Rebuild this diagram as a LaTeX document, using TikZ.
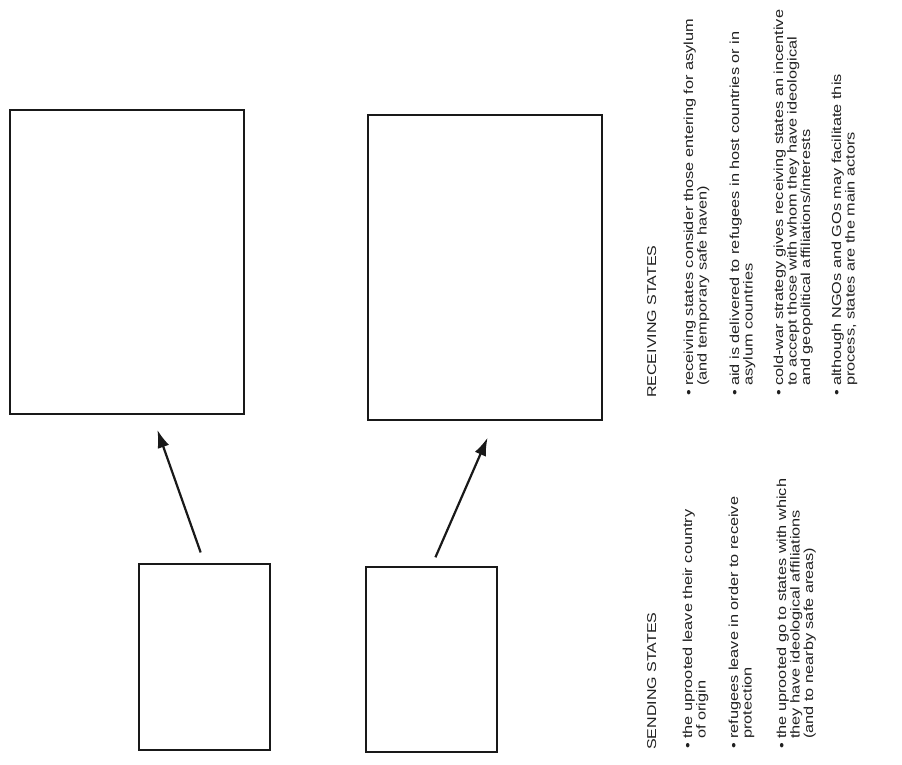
\documentclass[tikz,border=0pt]{standalone}
\usepackage{fontspec}
\setmainfont{Liberation Sans}
\usetikzlibrary{arrows.meta}
\begin{document}
\begin{tikzpicture}[x=1pt,y=-1pt,
  box/.style={draw=black!90, line width=1.4pt, inner sep=0pt},
  vt/.style={font=\fontsize{16.3}{18}\selectfont, xscale=0.8, rotate=90, anchor=base west, inner sep=0pt, text=black!88},
  vh/.style={vt, font=\fontsize{16}{18}\selectfont},
  arr/.style={line width=2.2pt, draw=black!90, -{Latex[length=18pt,width=12pt]}}]
\useasboundingbox (0,0) rectangle (902,765);
% boxes
\node[box, minimum width=234pt, minimum height=304pt] (b1) at (127,262) {};
\node[box, minimum width=234pt, minimum height=305pt] (b2) at (485,267.5) {};
\node[box, minimum width=131pt, minimum height=186pt] (s1) at (204.5,657) {};
\node[box, minimum width=131pt, minimum height=185pt] (s2) at (431.5,659.5) {};
% arrows
\draw[arr, shorten <=11.5pt, shorten >=16pt] (s1.north) -- ([xshift=25pt]b1.south);
\draw[arr, shorten <=9.8pt, shorten >=18.5pt] (s2.north) -- ([xshift=10pt]b2.south);
% receiving states
\node[vh] (rh) at (656,398) {RECEIVING STATES};
\node[vt] (rd1) at (693,396) {\textbullet};
\node[vt] (r1a) at (693,386) {receiving states consider those entering for asylum};
\node[vt] (r1b) at (706.5,386) {(and temporary safe haven)};
\node[vt] (rd2) at (739,396) {\textbullet};
\node[vt] (r2a) at (739,386) {aid is delivered to refugees in host countries or in};
\node[vt] (r2b) at (752.5,386) {asylum countries};
\node[vt] (rd3) at (783,396) {\textbullet};
\node[vt] (r3a) at (783,386) {cold-war strategy gives receiving states an incentive};
\node[vt] (r3b) at (796.5,386) {to accept those with whom they have ideological};
\node[vt] (r3c) at (810,386) {and geopolitical affiliations/interests};
\node[vt] (rd4) at (841,396) {\textbullet};
\node[vt] (r4a) at (841,386) {although NGOs and GOs may facilitate this};
\node[vt] (r4b) at (854.5,386) {process, states are the main actors};
% sending states
\node[vh] (sh) at (656,750) {SENDING STATES};
\node[vt] (sd1) at (692,749) {\textbullet};
\node[vt] (s1a) at (692,739) {the uprooted leave their country};
\node[vt] (s1b) at (705.5,739) {of origin};
\node[vt] (sd2) at (738,749) {\textbullet};
\node[vt] (s2a) at (738,739) {refugees leave in order to receive};
\node[vt] (s2b) at (751.5,739) {protection};
\node[vt] (sd3) at (786,749) {\textbullet};
\node[vt] (s3a) at (786,739) {the uprooted go to states with which};
\node[vt] (s3b) at (799.5,739) {they have ideological affiliations};
\node[vt] (s3c) at (813,739) {(and to nearby safe areas)};
\end{tikzpicture}
\end{document}
